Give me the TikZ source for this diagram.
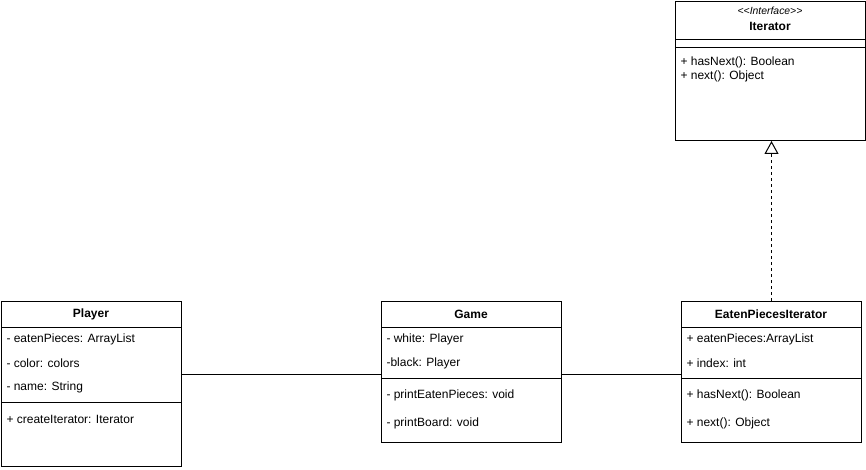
\documentclass[tikz,border=0pt]{standalone}
\usepackage{fontspec}
\setmainfont{Liberation Sans}
\usetikzlibrary{positioning,arrows.meta}

\begin{document}
\begin{tikzpicture}[x=0.75pt,y=-0.75pt,line width=0.75pt,
    font=\fontsize{9}{11}\selectfont,
    classbox/.style={draw,inner sep=0pt,anchor=north west,minimum width=135pt},
    member/.style={anchor=west,inner sep=0pt},
    title/.style={inner sep=0pt,font=\fontsize{9}{11}\selectfont\bfseries}]
    \useasboundingbox (0,0) rectangle (866,470);

    % Interface
    \node[classbox,minimum width=142.5pt,minimum height=104.25pt] (iter) at (675,1) {};
    \node[inner sep=0pt,font=\fontsize{7.8}{9}\selectfont\itshape] (iterstereo) at (770,11) {<\kern0pt<Interface>\kern0pt>};
    \node[title] (itername) at (770,26) {Iterator};
    \draw (iter.west |- 0,40) -- (iter.east |- 0,40);
    \draw (iter.west |- 0,48) -- (iter.east |- 0,48);
    \node[member] (iterm1) at (680,62.5) {+ hasNext(): Boolean};
    \node[member] (iterm2) at (680,76.5) {+ next(): Object};

    % Player
    \node[classbox,minimum height=123.75pt] (player) at (1,301) {};
    \node[title] (playername) at (91,314.5) {Player};
    \draw (player.west |- 0,327) -- (player.east |- 0,327);
    \node[member] (playera1) at (6,339.5) {- eatenPieces: ArrayList};
    \node[member] (playera2) at (6,363.5) {- color: colors};
    \node[member] (playera3) at (6,387.5) {- name: String};
    \draw (player.west |- 0,402) -- (player.east |- 0,402);
    \node[member] (playerm1) at (6,419.5) {+ createIterator: Iterator};

    % Game
    \node[classbox,minimum height=105.75pt] (game) at (381,301) {};
    \node[title] (gamename) at (471,314.5) {Game};
    \draw (game.west |- 0,327) -- (game.east |- 0,327);
    \node[member] (gamea1) at (386,339.5) {- white: Player};
    \node[member] (gamea2) at (386,363.5) {-black: Player};
    \draw (game.west |- 0,378) -- (game.east |- 0,378);
    \node[member] (gamem1) at (386,395.5) {- printEatenPieces: void};
    \node[member] (gamem2) at (386,423.5) {- printBoard: void};

    % Concrete iterator
    \node[classbox,minimum height=105.75pt] (epi) at (681,301) {};
    \node[title] (epiname) at (771,314.5) {EatenPiecesIterator};
    \draw (epi.west |- 0,327) -- (epi.east |- 0,327);
    \node[member] (epia1) at (686,339.5) {+ eatenPieces:ArrayList};
    \node[member] (epia2) at (686,363.5) {+ index: int};
    \draw (epi.west |- 0,378) -- (epi.east |- 0,378);
    \node[member] (epim1) at (686,395.5) {+ hasNext(): Boolean};
    \node[member] (epim2) at (686,423.5) {+ next(): Object};

    % Relations
    \coordinate (assoc) at (0,374);
    \draw (player.east |- assoc) -- (game.west |- assoc);
    \draw (game.east |- assoc) -- (epi.west |- assoc);
    \draw[dash pattern=on 2.25pt off 2.25pt,-{Triangle[open,length=9.75pt,width=10.5pt]}] (epi.north) -- (epi.north |- iter.south);
\end{tikzpicture}
\end{document}
